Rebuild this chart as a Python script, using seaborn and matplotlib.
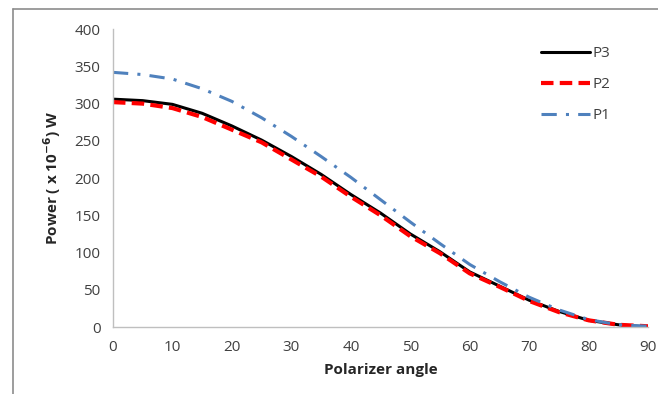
import matplotlib
matplotlib.use("Agg")
import matplotlib.pyplot as plt
import numpy as np
import pandas as pd
import seaborn as sns
from matplotlib.lines import Line2D

# values
angle = [0, 5, 10, 15, 20, 25, 30, 35, 40, 45, 50, 55, 60, 65, 70, 75, 80, 85, 90]
p3 = [306, 304, 299, 287, 270, 251, 229, 205, 178, 153, 125, 101, 74, 55, 36, 21, 9, 3, 0]
p2 = [302, 300, 294, 282, 265, 248, 225, 202, 175, 150, 122, 99, 72, 54, 35, 20, 9, 3, 1]
p1 = [342, 339, 333, 320, 303, 281, 256, 229, 201, 171, 141, 112, 84, 61, 40, 23, 10, 3, 1]

series = {"P3": p3, "P2": p2, "P1": p1}
styles = {
    "P3": dict(color="black", linestyle="-", linewidth=2.2),
    "P2": dict(color="#ff0000", linestyle=(0, (3.0, 1.5)), linewidth=3.0),
    "P1": dict(color="#4f81bd", linestyle=(0, (5, 3, 1, 3)), linewidth=2.2),
}

df = pd.DataFrame({"angle": angle, **series}).melt(
    id_vars="angle", var_name="series", value_name="power")

sns.set_style("white")
plt.rcParams["font.family"] = ["Open Sans", "DejaVu Sans"]

fig = plt.figure(figsize=(6.58, 3.94), dpi=100)
ax = fig.add_axes([0.1717, 0.170, 0.8133, 0.756])

for name in ["P3", "P2", "P1"]:
    sub = df[df["series"] == name]
    sns.lineplot(data=sub, x="angle", y="power", ax=ax, label=name,
                 **styles[name])

ax.set_xlim(0, 90)
ax.set_ylim(0, 400)
ax.set_xticks(range(0, 91, 10))
ax.set_yticks(range(0, 401, 50))
ax.tick_params(axis="both", direction="out", length=5, width=1,
               color="#bfbfbf", labelsize=11, labelcolor="#404040", pad=4)
for side in ["top", "right"]:
    ax.spines[side].set_visible(False)
for side in ["left", "bottom"]:
    ax.spines[side].set_color("#bfbfbf")
    ax.spines[side].set_linewidth(1)

ax.set_xlabel("Polarizer angle", fontsize=11, fontweight="bold", labelpad=6)
ax.set_ylabel(r"Power ( x 10$^{\mathbf{-6}}$) W", fontsize=11,
              fontweight="bold", labelpad=8)

leg = ax.legend(loc="upper left", bbox_to_anchor=(0.775, 0.99), frameon=False,
                fontsize=11, handlelength=3.2, handletextpad=0.15,
                labelspacing=1.05)
for t in leg.get_texts():
    t.set_color("#404040")

# outer chart border (top and left edges visible in reference)
fig.add_artist(Line2D([13 / 658, 1.0], [1 - 9 / 394, 1 - 9 / 394],
                      transform=fig.transFigure, color="#8c8c8c", linewidth=1.2))
fig.add_artist(Line2D([13 / 658, 13 / 658], [0, 1 - 9 / 394],
                      transform=fig.transFigure, color="#8c8c8c", linewidth=1.2))

fig.savefig("out.png", dpi=100)
